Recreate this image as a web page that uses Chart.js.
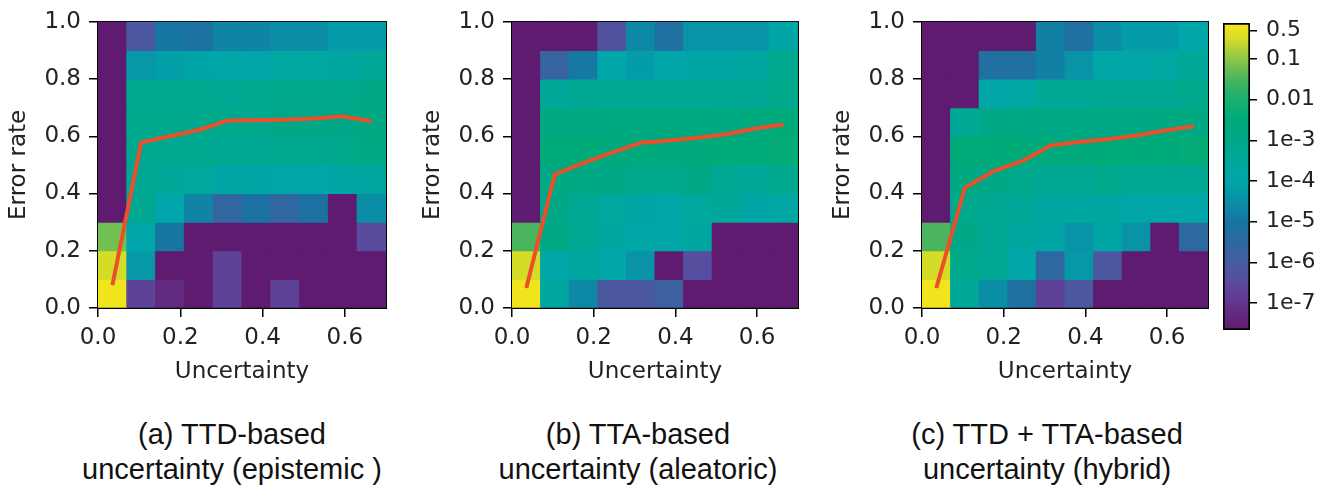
<!DOCTYPE html>
<html><head><meta charset="utf-8">
<script src="https://cdn.jsdelivr.net/npm/chart.js@4.4.1/dist/chart.umd.min.js"></script>
<style>
html,body{margin:0;padding:0;background:#fff;width:1339px;height:489px;overflow:hidden;position:relative}
canvas{position:absolute}
.cap{position:absolute;top:417px;width:400px;text-align:center;font-family:"Liberation Sans",Arial,sans-serif;font-size:29px;line-height:35px;color:#111;white-space:nowrap}
</style></head><body>
<canvas id="p1" width="400" height="400" style="left:0;top:0"></canvas>
<canvas id="p2" width="398" height="400" style="left:414px;top:0"></canvas>
<canvas id="p3" width="394" height="400" style="left:824px;top:0"></canvas>
<canvas id="cb" width="139" height="360" style="left:1200px;top:0"></canvas>
<div class="cap" style="left:32px">(a) TTD-based<br>uncertainty (epistemic )</div>
<div class="cap" style="left:438px">(b) TTA-based<br>uncertainty (aleatoric)</div>
<div class="cap" style="left:847px">(c) TTD + TTA-based<br>uncertainty (hybrid)</div>
<script>
// ---------- data ----------
const uncertaintyEdges = [0, 0.07, 0.14, 0.21, 0.28, 0.35, 0.42, 0.49, 0.56, 0.63, 0.70];
const errorRateEdges = [0, 0.1, 0.2, 0.3, 0.4, 0.5, 0.6, 0.7, 0.8, 0.9, 1.0];
const xTickValues = [0, 0.2, 0.4, 0.6];
const yTickValues = [0, 0.2, 0.4, 0.6, 0.8, 1.0];
const E = -7.7; // empty bin (shown with the colour-bar minimum)

// log10 density per cell; rows from error rate 0-0.1 (first) up to 0.9-1.0 (last)
const epistemicLog10 = [
  [-0.2, -6.7, -7.3, E, -6.7, E, -6.7, E, E, E],
  [-0.5, -4.3, E, E, -6.7, E, E, E, E, E],
  [-1.2, -4.0, -5.0, E, E, E, E, E, E, -6.5],
  [E, -3.3, -4.0, -4.7, -5.6, -5.1, -5.6, -5.1, E, -4.5],
  [E, -3.3, -3.5, -3.6, -3.9, -3.9, -4.0, -4.0, -3.9, -3.7],
  [E, -3.2, -3.2, -3.2, -3.3, -3.3, -3.2, -3.2, -3.1, -2.9],
  [E, -3.1, -3.1, -3.1, -3.1, -3.1, -3.0, -3.0, -3.0, -2.8],
  [E, -3.2, -3.2, -3.2, -3.3, -3.2, -3.1, -3.1, -3.1, -3.0],
  [E, -4.3, -4.15, -4.05, -3.95, -4.0, -3.8, -3.8, -3.7, -3.5],
  [E, -6.1, -5.0, -5.1, -4.7, -4.7, -4.5, -4.5, -4.2, -4.2]
];
const aleatoricLog10 = [
  [-0.2, -3.7, -4.6, -6.1, -6.1, -5.8, E, E, E, E],
  [-0.5, -3.95, -3.7, -3.95, -4.4, E, -6.4, E, E, E],
  [-1.5, -2.9, -3.3, -3.7, -3.95, -3.95, -3.7, E, E, E],
  [E, -3.0, -3.4, -3.6, -3.9, -3.95, -3.6, -3.5, -3.9, -3.8],
  [E, -2.8, -2.9, -3.0, -3.1, -3.1, -3.0, -3.4, -3.5, -3.2],
  [E, -2.5, -2.5, -2.6, -2.6, -2.6, -2.6, -2.5, -2.5, -2.4],
  [E, -2.8, -2.8, -2.7, -2.7, -2.7, -2.7, -2.7, -2.6, -2.5],
  [E, -3.5, -3.3, -3.4, -3.4, -3.4, -3.4, -3.3, -3.3, -3.1],
  [E, -5.7, -4.9, -4.0, -4.2, -4.0, -3.9, -3.9, -3.7, -3.2],
  [E, E, E, -6.3, -4.6, -5.2, -4.4, -4.4, -4.4, -3.9]
];
const hybridLog10 = [
  [-0.2, -3.5, -4.5, -5.2, -6.7, -6.1, E, E, E, E],
  [-0.5, -3.1, -3.3, -3.95, -5.5, -4.3, -6.1, E, E, E],
  [-1.5, -3.0, -3.3, -3.7, -3.9, -4.4, -3.9, -4.4, E, -5.5],
  [E, -3.1, -3.3, -3.5, -3.7, -3.7, -3.7, -3.95, -3.95, -3.95],
  [E, -2.8, -3.0, -3.1, -3.3, -3.3, -3.1, -3.3, -3.3, -3.3],
  [E, -2.5, -2.5, -2.5, -2.6, -2.6, -2.5, -2.5, -2.5, -2.4],
  [E, -3.4, -2.9, -2.9, -2.9, -2.9, -2.9, -2.9, -2.8, -2.8],
  [E, E, -3.95, -3.8, -3.4, -3.4, -3.3, -3.3, -3.3, -3.1],
  [E, E, -5.2, -5.2, -4.8, -4.4, -3.95, -3.95, -3.8, -3.5],
  [E, E, E, E, -4.8, -5.2, -4.5, -4.2, -4.2, -3.95]
];

const lineUncertainty = [0.035, 0.105, 0.175, 0.245, 0.315, 0.385, 0.455, 0.525, 0.595, 0.665];
const epistemicErrorRate = [0.08, 0.578, 0.60, 0.622, 0.655, 0.656, 0.658, 0.662, 0.669, 0.653];
const aleatoricErrorRate = [0.07, 0.467, 0.507, 0.543, 0.577, 0.585, 0.595, 0.607, 0.627, 0.641];
const hybridErrorRate = [0.07, 0.42, 0.478, 0.513, 0.568, 0.58, 0.59, 0.603, 0.62, 0.635];

const cbarTickValues = [0.5, 0.1, 0.01, 1e-3, 1e-4, 1e-5, 1e-6, 1e-7];
const cbarTickLabels = ['0.5', '0.1', '0.01', '1e-3', '1e-4', '1e-5', '1e-6', '1e-7'];
const cbarLog10Range = [-7.66, -0.115];

// ---------- style ----------
const cmapStops = [
  [-7.7, '#5e1b6f'], [-7.0, '#63358d'], [-6.5, '#5a4a9e'], [-6.0, '#475ca0'],
  [-5.5, '#2d68a0'], [-5.0, '#1775a2'], [-4.5, '#0a8ea6'], [-4.0, '#00a6a9'],
  [-3.5, '#00a89a'], [-3.0, '#00a888'], [-2.5, '#00ab7a'], [-2.0, '#18b070'],
  [-1.5, '#4ab45e'], [-1.0, '#8cc64a'], [-0.5, '#d4dc28'], [-0.115, '#f8e618']
];
function hex2rgb(h){return [1,3,5].map(i=>parseInt(h.substr(i,2),16));}
function cmap(v){
  if (v <= cmapStops[0][0]) return cmapStops[0][1];
  for (let i=1;i<cmapStops.length;i++){
    if (v <= cmapStops[i][0]){
      const [a,ca]=cmapStops[i-1],[b,cb]=cmapStops[i];
      const t=(v-a)/(b-a), A=hex2rgb(ca), B=hex2rgb(cb);
      return 'rgb('+A.map((x,k)=>Math.round(x+(B[k]-x)*t)).join(',')+')';
    }
  }
  return cmapStops[cmapStops.length-1][1];
}
const TXT = '#222';
Chart.defaults.font.family = '"DejaVu Sans", sans-serif';
const axisFont = {size: 23, family: '"DejaVu Sans", sans-serif'};

function heatData(grid){
  const pts=[], cols=[];
  for (let r=0;r<errorRateEdges.length-1;r++){
    for (let c=0;c<uncertaintyEdges.length-1;c++){
      pts.push({x:(uncertaintyEdges[c]+uncertaintyEdges[c+1])/2, y:[errorRateEdges[r], errorRateEdges[r+1]]});
      cols.push(cmap(grid[r][c]));
    }
  }
  return {pts, cols};
}
const frameOnly = (pos, sizeKey, extra) => Object.assign({
  position: pos, display: true,
  afterFit: s => { s[sizeKey] = 0; },
  ticks: {display: false}, grid: {display: false, drawTicks: false},
  border: {display: true, color: '#000', width: 2}
}, extra);

function makePanel(id, grid, lineY, rightPad){
  const {pts, cols} = heatData(grid);
  return new Chart(document.getElementById(id), {
    type: 'bar',
    data: {datasets: [
      {type: 'line', data: lineUncertainty.map((x,i)=>({x, y: lineY[i]})),
       borderColor: '#ea5029', borderWidth: 4, pointRadius: 0, tension: 0, order: 0,
       borderJoinStyle: 'round'},
      {type: 'bar', data: pts, backgroundColor: cols, borderWidth: 0,
       barPercentage: 1, categoryPercentage: 1, grouped: false, order: 1, inflateAmount: 0.5}
    ]},
    options: {
      responsive: false, animation: false, events: [],
      layout: {padding: {top: 20, right: rightPad, left: 0, bottom: 0}},
      plugins: {legend: {display: false}, tooltip: {enabled: false}},
      scales: {
        x: {type: 'linear', position: 'bottom', min: 0, max: 0.7, offset: false,
            afterFit: s => { s.height = 92; },
            afterBuildTicks: s => { s.ticks = xTickValues.map(v => ({value: v})); },
            ticks: {callback: v => Number(v).toFixed(1), font: axisFont, color: TXT, padding: 7, maxRotation: 0, autoSkip: false},
            grid: {display: true, drawOnChartArea: false, offset: false, tickLength: 9, tickColor: '#000', lineWidth: 1.5},
            border: {display: true, color: '#000', width: 2},
            title: {display: true, text: 'Uncertainty', font: axisFont, color: TXT, padding: {top: 0, bottom: 14}}},
        y: {type: 'linear', position: 'left', min: 0, max: 1,
            afterFit: s => { s.width = 98; },
            afterBuildTicks: s => { s.ticks = yTickValues.map(v => ({value: v})); },
            ticks: {callback: v => Number(v).toFixed(1), font: axisFont, color: TXT, padding: 8, autoSkip: false},
            grid: {display: true, drawOnChartArea: false, tickLength: 9, tickColor: '#000', lineWidth: 1.5},
            border: {display: true, color: '#000', width: 2},
            title: {display: true, text: 'Error rate', font: axisFont, color: TXT, padding: {top: 5, bottom: 0}}},
        xTop: frameOnly('top', 'height', {type: 'linear', min: 0, max: 0.7}),
        yRight: frameOnly('right', 'width', {type: 'linear', min: 0, max: 1})
      }
    }
  });
}
makePanel('p1', epistemicLog10, epistemicErrorRate, 14);
makePanel('p2', aleatoricLog10, aleatoricErrorRate, 14);
makePanel('p3', hybridLog10, hybridErrorRate, 10);

// colour bar (log scale)
new Chart(document.getElementById('cb'), {
  type: 'bar',
  data: {labels: [''], datasets: [{
    data: [[Math.pow(10, cbarLog10Range[0]), Math.pow(10, cbarLog10Range[1])]],
    borderWidth: 2, borderColor: '#000', borderSkipped: false,
    barPercentage: 1, categoryPercentage: 1,
    backgroundColor: c => {
      const ch = c.chart, a = ch.chartArea;
      if (!a || !ch.scales.y) return cmapStops[0][1];
      const ys = ch.scales.y;
      const g = ch.ctx.createLinearGradient(0, a.bottom, 0, a.top);
      cmapStops.forEach(([lv, col]) => {
        const p = (a.bottom - ys.getPixelForValue(Math.pow(10, lv))) / (a.bottom - a.top);
        g.addColorStop(Math.min(1, Math.max(0, p)), col);
      });
      return g;
    }
  }]},
  options: {
    responsive: false, animation: false, events: [],
    layout: {padding: {top: 23, right: 0, left: 23, bottom: 0}},
    plugins: {legend: {display: false}, tooltip: {enabled: false}},
    scales: {
      x: {type: 'category', position: 'bottom', afterFit: s => { s.height = 30; },
          ticks: {display: false}, grid: {display: false, drawTicks: false},
          border: {display: false}},
      y: {type: 'logarithmic', position: 'right',
          min: Math.pow(10, cbarLog10Range[0]), max: Math.pow(10, cbarLog10Range[1]),
          afterFit: s => { s.width = 89; },
          afterBuildTicks: s => { s.ticks = cbarTickValues.map(v => ({value: v})); },
          ticks: {callback: (v, i) => cbarTickLabels[i], font: {size: 22, family: '"DejaVu Sans", sans-serif'}, color: TXT, padding: 9, autoSkip: false},
          grid: {display: true, drawOnChartArea: false, tickLength: 7, tickColor: '#000', lineWidth: 1.5},
          border: {display: false}}
    }
  }
});
</script>
</body></html>
